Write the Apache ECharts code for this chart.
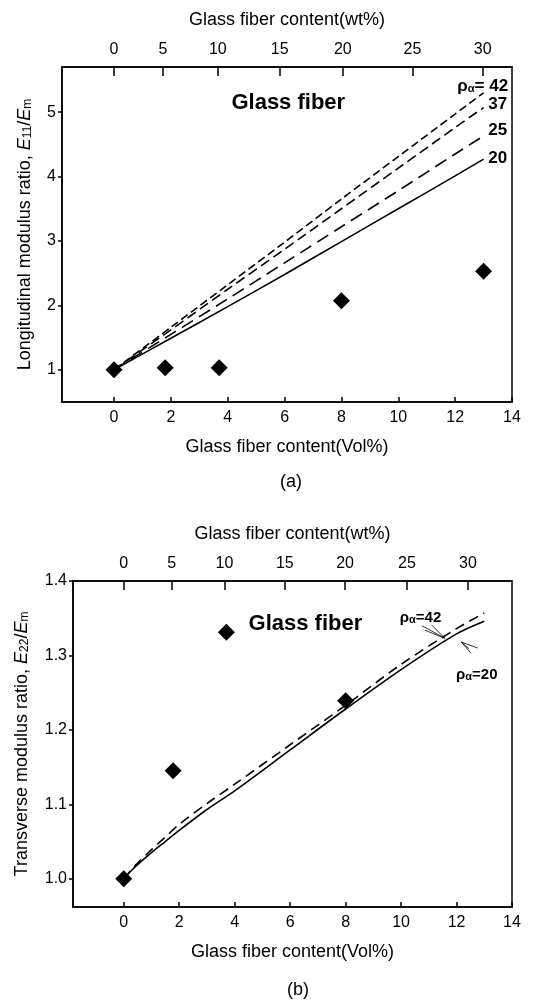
<!DOCTYPE html>
<html><head><meta charset="utf-8">
<script src="https://cdn.jsdelivr.net/npm/echarts@6/dist/echarts.min.js"></script>
<style>html,body{margin:0;padding:0;background:#fff}#c{width:536px;height:1003px}</style>
</head><body><div id="c"></div>
<script>
// ---- tick labels ----
const volTicks = [0, 2, 4, 6, 8, 10, 12, 14];
const wtLabels = ['0', '5', '10', '15', '20', '25', '30'];
const wtPosA = [0, 1.72, 3.65, 5.83, 8.05, 10.5, 12.97];   // vol% positions of wt% ticks, panel (a)
const wtPosB = [0, 1.73, 3.63, 5.81, 7.98, 10.21, 12.41];  // vol% positions of wt% ticks, panel (b)
const yTicksA = [1, 2, 3, 4, 5];
const yTicksB = [1.0, 1.1, 1.2, 1.3, 1.4];

// ---- panel (a) data ----
const expVolA = [0, 1.8, 3.7, 8.0, 13.0];
const expE11 = [1.0, 1.03, 1.03, 2.07, 2.53];
const curveVolA = [0, 2, 4, 6, 8, 10, 12, 13];
const e11Rho20 = [1.0, 1.49, 1.98, 2.48, 2.99, 3.50, 4.01, 4.27];
const e11Rho25 = [1.0, 1.55, 2.10, 2.66, 3.22, 3.78, 4.35, 4.63];
const e11Rho37 = [1.0, 1.62, 2.25, 2.87, 3.50, 4.13, 4.76, 5.07];
const e11Rho42 = [1.0, 1.66, 2.32, 2.98, 3.65, 4.31, 4.97, 5.30];

// ---- panel (b) data ----
const expVolB = [0, 1.78, 3.7, 8.0];
const expE22 = [1.0, 1.145, 1.331, 1.239];
const curveVolB = [0, 0.25, 0.5, 1, 1.5, 2, 3, 4, 6, 8, 10, 12, 13];
const e22Rho20 = [1.0, 1.010, 1.019, 1.035, 1.050, 1.065, 1.093, 1.118, 1.173, 1.228, 1.281, 1.329, 1.346];
const e22Rho42 = [1.0, 1.011, 1.021, 1.039, 1.056, 1.073, 1.101, 1.127, 1.180, 1.233, 1.288, 1.336, 1.357];

const zip = (xs, ys) => xs.map((x, i) => [x, ys[i]]);
const FONT = 'Liberation Sans, Arial, sans-serif';
const NARROW = 'Liberation Sans Narrow, Liberation Sans, Arial, sans-serif';
const BLACK = '#000';

function bottomAxis(gi) {
  return {
    gridIndex: gi, type: 'value', position: 'bottom', min: -1.83, max: 14,
    axisLine: { show: true, onZero: false, lineStyle: { color: BLACK, width: 1.5 } },
    axisTick: { show: true, inside: true, length: 5, customValues: volTicks, lineStyle: { color: BLACK, width: 1.5 } },
    axisLabel: { customValues: volTicks, fontSize: 16, color: BLACK, fontFamily: FONT, margin: 8 },
    splitLine: { show: false },
    name: 'Glass fiber content(Vol%)', nameLocation: 'middle', nameGap: 36,
    nameTextStyle: { fontSize: 18, color: BLACK, fontFamily: FONT }
  };
}
function topAxis(gi, pos) {
  return {
    gridIndex: gi, type: 'value', position: 'top', min: -1.83, max: 14,
    axisLine: { show: true, onZero: false, lineStyle: { color: BLACK, width: 1.5 } },
    axisTick: { show: true, inside: true, length: 9, customValues: pos, lineStyle: { color: BLACK, width: 1.5 } },
    axisLabel: { customValues: pos, fontSize: 16, color: BLACK, fontFamily: FONT, margin: 9,
      formatter: v => { const i = pos.findIndex(p => Math.abs(p - v) < 1e-6); return i >= 0 ? wtLabels[i] : ''; } },
    splitLine: { show: false },
    name: 'Glass fiber content(wt%)', nameLocation: 'middle', nameGap: 38,
    nameTextStyle: { fontSize: 18, color: BLACK, fontFamily: FONT }
  };
}
function leftAxis(gi, min, max, ticks, dec, name, gap) {
  return {
    gridIndex: gi, type: 'value', min: min, max: max,
    axisLine: { show: true, onZero: false, lineStyle: { color: BLACK, width: 1.5 } },
    axisTick: { show: true, inside: false, length: 4, customValues: ticks, lineStyle: { color: BLACK, width: 1.5 } },
    axisLabel: { customValues: ticks, fontSize: 16, color: BLACK, fontFamily: FONT, margin: 6,
      formatter: v => v.toFixed(dec) },
    splitLine: { show: false },
    name: name, nameLocation: 'middle', nameRotate: 90, nameGap: gap,
    nameTextStyle: { fontSize: 18, color: BLACK, fontFamily: FONT,
      rich: {
        i: { fontSize: 18, fontStyle: 'italic', fontFamily: FONT, color: BLACK },
        u: { fontSize: 12, fontFamily: FONT, color: BLACK, verticalAlign: 'bottom', lineHeight: 12, padding: [8, 0, 0, 0] }
      } }
  };
}
function curve(xi, yi, xs, ys, dash) {
  return { type: 'line', xAxisIndex: xi, yAxisIndex: yi, data: zip(xs, ys), showSymbol: false, symbol: 'none',
    smooth: 0.3, lineStyle: { color: BLACK, width: 1.6, type: dash, opacity: 1 }, z: 3 };
}
function textMarks(xi, yi, items, style) {
  return { type: 'scatter', xAxisIndex: xi, yAxisIndex: yi, symbolSize: 0, silent: true, z: 6,
    itemStyle: { opacity: 1 },
    data: items.map(it => ({ value: it[0], label: { show: true, position: [0, 0], align: 'center', verticalAlign: 'middle',
      formatter: it[1], ...style } })) };
}
function leader(xi, yi, pts) {
  return { type: 'line', xAxisIndex: xi, yAxisIndex: yi, data: pts, showSymbol: false, symbol: 'none',
    lineStyle: { color: BLACK, width: 0.8 }, z: 4 };
}
const rhoRich = {
  s: { fontSize: 11, fontFamily: NARROW, fontWeight: 'bold', color: BLACK, verticalAlign: 'bottom', lineHeight: 11, padding: [7, 0, 0, 0] }
};

const chart = echarts.init(document.getElementById('c'), null, { renderer: 'canvas' });
chart.setOption({
  animation: false,
  backgroundColor: '#fff',
  textStyle: { fontFamily: FONT },
  title: [
    { text: '(a)', left: 275, top: 468, textStyle: { fontSize: 18, fontWeight: 'normal', color: BLACK, fontFamily: FONT } },
    { text: '(b)', left: 282, top: 976, textStyle: { fontSize: 18, fontWeight: 'normal', color: BLACK, fontFamily: FONT } }
  ],
  grid: [
    { left: 62, top: 67, width: 450, height: 335, show: true, borderColor: BLACK, borderWidth: 1.5, containLabel: false },
    { left: 73, top: 581, width: 439, height: 326, show: true, borderColor: BLACK, borderWidth: 1.5, containLabel: false }
  ],
  xAxis: [bottomAxis(0), topAxis(0, wtPosA), bottomAxis(1), topAxis(1, wtPosB)],
  yAxis: [
    leftAxis(0, 0.5, 5.7, yTicksA, 0, 'Longitudinal modulus ratio, {i|E}{u|11}/{i|E}{u|m}', 28),
    leftAxis(1, 0.962, 1.4, yTicksB, 1, 'Transverse modulus ratio, {i|E}{u|22}/{i|E}{u|m}', 42)
  ],
  series: [
    // panel (a)
    curve(0, 0, curveVolA, e11Rho20, 'solid'),
    curve(0, 0, curveVolA, e11Rho25, [13, 7]),
    curve(0, 0, curveVolA, e11Rho37, [10, 5]),
    curve(0, 0, curveVolA, e11Rho42, [8, 4]),
    { type: 'scatter', xAxisIndex: 0, yAxisIndex: 0, data: zip(expVolA, expE11), symbol: 'diamond', symbolSize: 17,
      itemStyle: { color: BLACK, opacity: 1 }, z: 5 },
    textMarks(0, 0, [[[6.13, 5.14], 'Glass fiber']],
      { fontSize: 22, fontWeight: 'bold', color: BLACK, fontFamily: FONT }),
    textMarks(0, 0, [
      [[12.97, 5.40], 'ρ{s|α}= 42'], [[13.5, 5.12], '37'], [[13.5, 4.72], '25'], [[13.5, 4.29], '20']
    ], { fontSize: 17, fontWeight: 'bold', color: BLACK, fontFamily: NARROW, rich: rhoRich }),
    // panel (b)
    curve(2, 1, curveVolB, e22Rho20, 'solid'),
    curve(2, 1, curveVolB, e22Rho42, [10, 6]),
    { type: 'scatter', xAxisIndex: 2, yAxisIndex: 1, data: zip(expVolB, expE22), symbol: 'diamond', symbolSize: 17,
      itemStyle: { color: BLACK, opacity: 1 }, z: 5 },
    textMarks(2, 1, [[[6.55, 1.342], 'Glass fiber']],
      { fontSize: 22, fontWeight: 'bold', color: BLACK, fontFamily: FONT }),
    textMarks(2, 1, [[[10.7, 1.351], 'ρ{s|α}=42'], [[12.73, 1.274], 'ρ{s|α}=20']],
      { fontSize: 15, fontWeight: 'bold', color: BLACK, fontFamily: NARROW, rich: rhoRich }),
    leader(2, 1, [[10.75, 1.340], [11.58, 1.323]]),
    leader(2, 1, [[10.85, 1.334], [11.58, 1.323]]),
    leader(2, 1, [[11.1, 1.341], [11.58, 1.323]]),
    leader(2, 1, [[12.52, 1.303], [12.17, 1.318]]),
    leader(2, 1, [[12.76, 1.310], [12.17, 1.318]]),
    leader(2, 1, [[12.45, 1.309], [12.17, 1.318]])
  ]
});
</script></body></html>
